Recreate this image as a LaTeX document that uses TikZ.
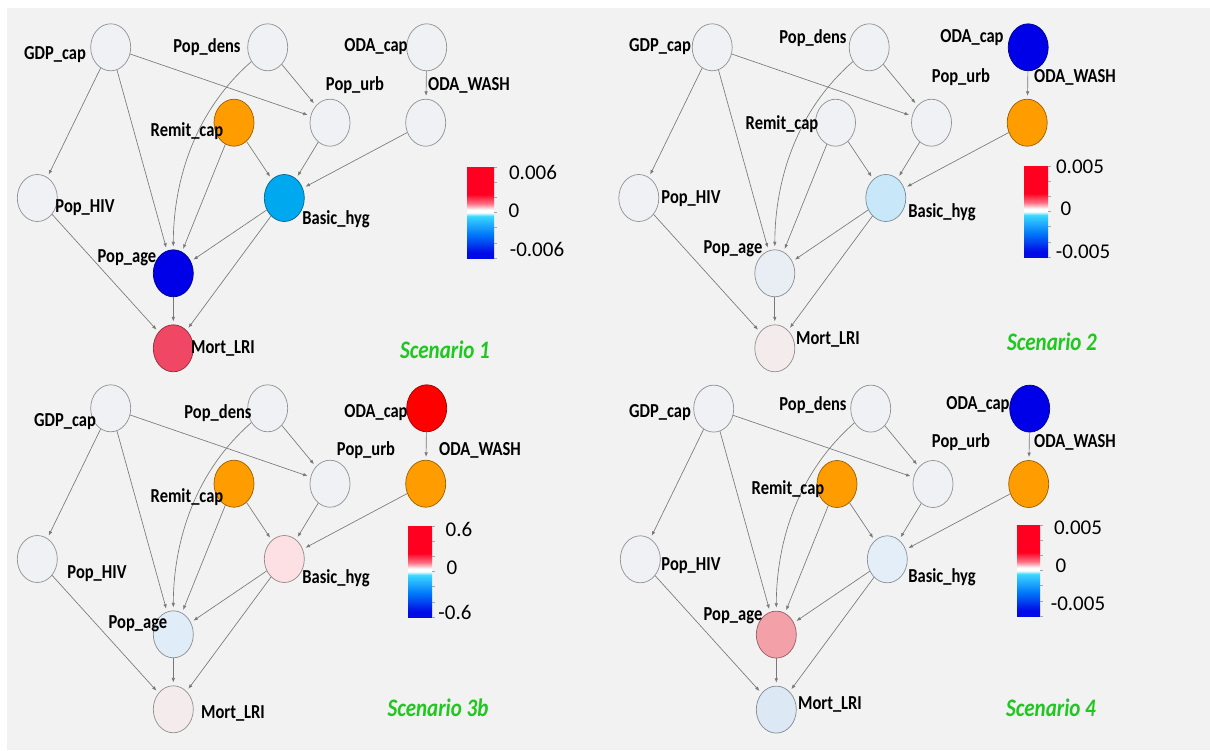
\documentclass[tikz,border=0pt]{standalone}
\usepackage{fontspec}
\setmainfont{Carlito}
\usetikzlibrary{arrows.meta,shapes.geometric}
\definecolor{bg}{RGB}{242,242,242}
\definecolor{ndgray}{RGB}{239,241,244}
\definecolor{edgegray}{RGB}{120,120,120}
\definecolor{orng}{RGB}{255,156,0}
\definecolor{dblue}{RGB}{0,0,232}
\definecolor{redd}{RGB}{255,0,0}
\definecolor{hygA}{RGB}{0,168,240}
\definecolor{mortA}{RGB}{240,72,100}
\definecolor{hygB}{RGB}{200,232,250}
\definecolor{ageB}{RGB}{232,238,244}
\definecolor{mortB}{RGB}{244,236,236}
\definecolor{hygC}{RGB}{252,224,228}
\definecolor{ageC}{RGB}{224,236,248}
\definecolor{hygD}{RGB}{228,238,248}
\definecolor{ageD}{RGB}{244,160,168}
\definecolor{mortD}{RGB}{220,232,244}
\definecolor{cbred}{RGB}{255,0,32}
\definecolor{cbpink}{RGB}{255,110,130}
\definecolor{cbcyan}{RGB}{60,215,255}
\definecolor{cbmid}{RGB}{0,120,250}
\definecolor{cbblue}{RGB}{0,10,230}
\definecolor{scgreen}{RGB}{30,200,30}
\pgfdeclareverticalshading{cbar}{100bp}{color(0bp)=(cbblue); color(25bp)=(cbblue); color(28bp)=(cbblue); color(38bp)=(cbmid); color(48bp)=(cbcyan); color(50bp)=(white); color(51.5bp)=(white); color(55bp)=(cbpink); color(60bp)=(cbred); color(100bp)=(cbred)}
\newcommand{\st}[1]{\scalebox{1}[1.2]{#1}}
\tikzset{
  nd/.style={ellipse, minimum width=40pt, minimum height=47pt, inner sep=0pt, draw=#1!60!black, fill=#1, line width=0.7pt},
  edge/.style={draw=edgegray, line width=0.65pt, shorten >=3pt, -{Latex[length=4.5pt,width=3.5pt]}},
  lab/.style={font=\fontsize{16.5}{18}\selectfont\bfseries, inner sep=0pt},
  cblab/.style={font=\fontsize{21}{23}\selectfont, inner sep=0pt},
  sclab/.style={font=\fontsize{21}{23}\selectfont\bfseries\itshape, text=scgreen, inner sep=0pt},
  tick/.style={draw=gray!70, line width=0.6pt}
}
% #1 prefix, #2 dx, #3 dy, #4 odacap, #5 wash, #6 remit, #7 hyg, #8 age, #9 mort
\newcommand{\bnpanel}[9]{%
\begin{scope}[shift={(#2,#3)}]
  \node[nd=ndgray] (#1gdp) at (110.7,47.3) {};
  \node[nd=ndgray] (#1dens) at (267.7,47.3) {};
  \node[nd=#4] (#1oc) at (426.7,47.3) {};
  \node[nd=ndgray] (#1urb) at (330,122.7) {};
  \node[nd=#5] (#1wash) at (425.7,122.7) {};
  \node[nd=#6] (#1remit) at (234,122.7) {};
  \node[nd=ndgray] (#1hiv) at (37.3,198) {};
  \node[nd=#7] (#1hyg) at (284.3,198) {};
  \node[nd=#8] (#1age) at (173.3,273.3) {};
  \node[nd=#9] (#1mort) at (173.3,348.3) {};
  \draw[edge] (#1gdp) -- (#1hiv);
  \draw[edge] (#1gdp) -- (#1age);
  \draw[edge] (#1gdp) -- (#1urb);
  \draw[edge] (#1dens) -- (#1urb);
  \draw[edge] (#1dens) .. controls +(-80,70) and +(0,-80) .. (#1age);
  \draw[edge] (#1oc) -- (#1wash);
  \draw[edge] (#1remit) -- (#1age);
  \draw[edge] (#1remit) -- (#1hyg);
  \draw[edge] (#1urb) -- (#1hyg);
  \draw[edge] (#1wash) -- (#1hyg);
  \draw[edge] (#1hiv) -- (#1mort);
  \draw[edge] (#1hyg) -- (#1age);
  \draw[edge] (#1hyg) -- (#1mort);
  \draw[edge] (#1age) -- (#1mort);
\end{scope}}
% colour bar: #1 x1, #2 y1, #3 x2, #4 y2
\newcommand{\cbarbox}[4]{%
  \shade[shading=cbar] (#1,#2) rectangle (#3,#4);
  \foreach \i in {0,...,6} {\draw[tick] (#3,{#2+\i*(#4-#2)/6}) -- ++(3,0);}
}
\begin{document}
\begin{tikzpicture}[x=1pt,y=-1pt]
\useasboundingbox (0,0) rectangle (1210,750);
\fill[white] (0,0) rectangle (1210,750);
\fill[bg] (7,8) rectangle (1210,750);

% ---------- Panel 1
\bnpanel{a}{0}{0}{ndgray}{ndgray}{orng}{hygA}{dblue}{mortA}
\node[lab] (a1) at (55,55) {\st{GDP\_cap}};
\node[lab] (a2) at (207,47) {\st{Pop\_dens}};
\node[lab] (a3) at (376,47) {\st{ODA\_cap}};
\node[lab] (a4) at (355,85) {\st{Pop\_urb}};
\node[lab] (a5) at (469,85) {\st{ODA\_WASH}};
\node[lab] (a6) at (187,131) {\st{Remit\_cap}};
\node[lab] (a7) at (85,208) {\st{Pop\_HIV}};
\node[lab] (a8) at (336,219) {\st{Basic\_hyg}};
\node[lab] (a9) at (127,258) {\st{Pop\_age}};
\node[lab] (a10) at (223,348) {\st{Mort\_LRI}};
\node[sclab] (asc) at (445,350) {\st{Scenario 1}};
\cbarbox{467}{167}{494}{258}
\node[cblab] (acb1) at (533,172) {0.006};
\node[cblab] (acb2) at (514,211) {0};
\node[cblab] (acb3) at (537,249) {-0.006};

% ---------- Panel 2
\bnpanel{b}{601.5}{0}{dblue}{orng}{ndgray}{hygB}{ageB}{mortB}
\node[lab] (b1) at (660,47) {\st{GDP\_cap}};
\node[lab] (b2) at (813,38) {\st{Pop\_dens}};
\node[lab] (b3) at (972,38) {\st{ODA\_cap}};
\node[lab] (b4) at (961,77) {\st{Pop\_urb}};
\node[lab] (b5) at (1075,77) {\st{ODA\_WASH}};
\node[lab] (b6) at (782,124) {\st{Remit\_cap}};
\node[lab] (b7) at (691,199) {\st{Pop\_HIV}};
\node[lab] (b8) at (942,212) {\st{Basic\_hyg}};
\node[lab] (b9) at (733,249) {\st{Pop\_age}};
\node[lab] (b10) at (828,339) {\st{Mort\_LRI}};
\node[sclab] (bsc) at (1052,342) {\st{Scenario 2}};
\cbarbox{1024}{166}{1048}{257}
\node[cblab] (bcb1) at (1080,167) {0.005};
\node[cblab] (bcb2) at (1066,209) {0};
\node[cblab] (bcb3) at (1083,252) {-0.005};

% ---------- Panel 3
\bnpanel{c}{0}{361}{redd}{orng}{orng}{hygC}{ageC}{mortB}
\node[lab] (c1) at (65,422) {\st{GDP\_cap}};
\node[lab] (c2) at (218,413) {\st{Pop\_dens}};
\node[lab] (c3) at (376,413) {\st{ODA\_cap}};
\node[lab] (c4) at (366,450) {\st{Pop\_urb}};
\node[lab] (c5) at (480,450) {\st{ODA\_WASH}};
\node[lab] (c6) at (187,497) {\st{Remit\_cap}};
\node[lab] (c7) at (97,574) {\st{Pop\_HIV}};
\node[lab] (c8) at (336,578) {\st{Basic\_hyg}};
\node[lab] (c9) at (138,624) {\st{Pop\_age}};
\node[lab] (c10) at (233,713) {\st{Mort\_LRI}};
\node[sclab] (csc) at (438,708) {\st{Scenario 3b}};
\cbarbox{408}{526}{432}{617}
\node[cblab] (ccb1) at (459,529) {0.6};
\node[cblab] (ccb2) at (452,568) {0};
\node[cblab] (ccb3) at (455,612) {-0.6};

% ---------- Panel 4
\bnpanel{d}{603}{361.3}{dblue}{orng}{orng}{hygD}{ageD}{mortD}
\node[lab] (d1) at (660,413) {\st{GDP\_cap}};
\node[lab] (d2) at (813,405) {\st{Pop\_dens}};
\node[lab] (d3) at (978,405) {\st{ODA\_cap}};
\node[lab] (d4) at (961,442) {\st{Pop\_urb}};
\node[lab] (d5) at (1075,442) {\st{ODA\_WASH}};
\node[lab] (d6) at (788,489) {\st{Remit\_cap}};
\node[lab] (d7) at (691,566) {\st{Pop\_HIV}};
\node[lab] (d8) at (942,577) {\st{Basic\_hyg}};
\node[lab] (d9) at (733,616) {\st{Pop\_age}};
\node[lab] (d10) at (830,704) {\st{Mort\_LRI}};
\node[sclab] (dsc) at (1051,708) {\st{Scenario 4}};
\cbarbox{1017}{525}{1040}{616}
\node[cblab] (dcb1) at (1078,528) {0.005};
\node[cblab] (dcb2) at (1061,566) {0};
\node[cblab] (dcb3) at (1078,604) {-0.005};
\end{tikzpicture}
\end{document}
